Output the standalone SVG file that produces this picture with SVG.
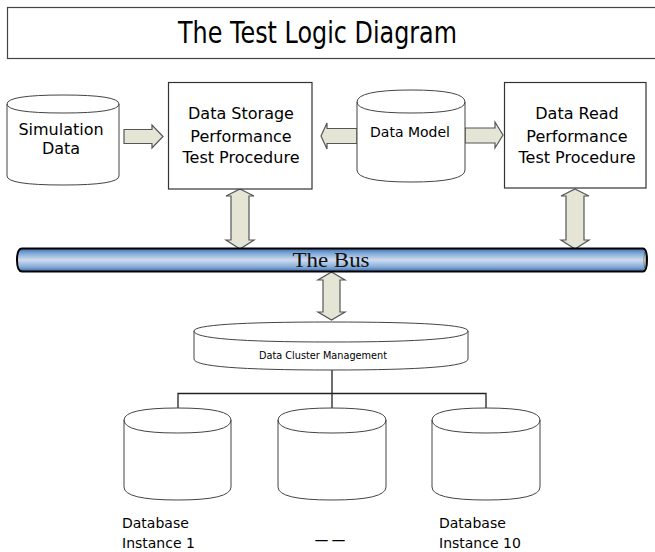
<svg xmlns="http://www.w3.org/2000/svg" width="655" height="552" viewBox="0 0 655 552">
<defs>
<style>
.box{fill:#fff;stroke:#333;stroke-width:1.2}
.cyl{fill:#fff;stroke:#444;stroke-width:1}
.arr{fill:#e4e5d5;stroke:#555;stroke-width:1.2;stroke-linejoin:miter}
.ln{fill:none;stroke:#222;stroke-width:1.3}
.t{font-family:"DejaVu Sans","Liberation Sans",sans-serif;fill:#000}
.c{text-anchor:middle}
</style>
<linearGradient id="busg" x1="0" y1="0" x2="0" y2="1">
<stop offset="0" stop-color="#3e6db0"/>
<stop offset="0.2" stop-color="#7ea6d6"/>
<stop offset="0.5" stop-color="#cfdcee"/>
<stop offset="0.8" stop-color="#86acd8"/>
<stop offset="1" stop-color="#3e6db0"/>
</linearGradient>
</defs>
<rect width="655" height="552" fill="#fff"/>

<g id="title">
<rect x="7.5" y="7.5" width="660" height="51" fill="#fff" stroke="#444" stroke-width="1.2"/>
<text class="t" x="178" y="43" font-size="30" textLength="279" lengthAdjust="spacingAndGlyphs">The Test Logic Diagram</text>
</g>

<g id="connectors">
<polygon class="arr" points="124,129.5 152,129.5 152,125 163,136.5 152,148 152,143.5 124,143.5"/>
<polygon class="arr" points="357,128.5 327,128.5 327,123 321,136 327,149 327,143.5 357,143.5"/>
<polygon class="arr" points="465,128 495,128 495,122 503,135 495,148 495,143 465,143"/>
<polygon class="arr" points="240,189 254,196 249,196 249,240 254,240 240,249 226,240 231,240 231,196 226,196"/>
<polygon class="arr" points="575,189 589,196 584,196 584,240 589,240 575,249 561,240 566,240 566,196 561,196"/>
<polygon class="arr" points="331.5,272 345,280 340,280 340,312 345,312 331.5,320 318,312 323,312 323,280 318,280"/>
<path class="ln" d="M332,370 V408 M178,408 V393.5 H486 V408"/>
</g>

<g id="sim-data">
<path class="cyl" d="M7,104 Q7,95 63,95 Q119,95 119,104 L119,176 Q119,185 63,185 Q7,185 7,176 Z M7,104 Q7,113 63,113 Q119,113 119,104"/>
<text class="t c" font-size="16"><tspan x="61" y="135">Simulation</tspan><tspan x="61" y="154">Data</tspan></text>
</g>

<g id="storage-proc">
<rect class="box" x="168.5" y="82.5" width="143.5" height="106.5"/>
<text class="t c" font-size="16"><tspan x="241" y="119">Data Storage</tspan><tspan x="241" y="142">Performance</tspan><tspan x="241" y="163">Test  Procedure</tspan></text>
</g>

<g id="data-model">
<path class="cyl" d="M357,102 Q357,90 411,90 Q465,90 465,102 L465,170 Q465,182 411,182 Q357,182 357,170 Z M357,102 Q357,113 411,113 Q465,113 465,102"/>
<text class="t c" font-size="14" x="410" y="137">Data Model</text>
</g>

<g id="read-proc">
<rect class="box" x="504.5" y="82.5" width="141.5" height="105.5"/>
<text class="t c" font-size="16"><tspan x="577" y="119">Data Read</tspan><tspan x="577" y="142">Performance</tspan><tspan x="577" y="163">Test  Procedure</tspan></text>
</g>

<g id="bus">
<path d="M22,248.5 H643 Q647,248.5 647,260 Q647,271.5 643,271.5 H22 Q17,271.5 17,260 Q17,248.5 22,248.5 Z" fill="url(#busg)" stroke="#000" stroke-width="2"/>
<path d="M644.5,252 Q643,260 644.5,268 Q646,260 644.5,252 Z" fill="#eef2fa" stroke="#555" stroke-width="0.6"/>
<text x="331" y="267" font-family="Liberation Serif, serif" font-size="20" text-anchor="middle" textLength="77" lengthAdjust="spacingAndGlyphs" fill="#111">The Bus</text>
</g>

<g id="cluster-mgmt">
<path class="cyl" d="M194,331 Q194,322 331,322 Q468,322 468,331 L468,359 Q468,370 331,370 Q194,370 194,359 Z M194,331 Q194,342 331,342 Q468,342 468,331"/>
<text class="t c" font-size="10" x="323" y="359" textLength="128" lengthAdjust="spacingAndGlyphs">Data Cluster Management</text>
</g>

<g id="db1">
<path class="cyl" d="M124,420 Q124,408 177.5,408 Q231,408 231,420 L231,487 Q231,500 177.5,500 Q124,500 124,487 Z M124,420 Q124,433 177.5,433 Q231,433 231,420"/>
<text class="t" font-size="14"><tspan x="122" y="528">Database</tspan><tspan x="122" y="548">Instance  1</tspan></text>
</g>

<g id="db-mid">
<path class="cyl" d="M278,420 Q278,408 332,408 Q386,408 386,420 L386,487 Q386,500 332,500 Q278,500 278,487 Z M278,420 Q278,433 332,433 Q386,433 386,420"/>
<text class="t" font-size="14" x="313" y="545" textLength="34" lengthAdjust="spacingAndGlyphs">--</text>
</g>

<g id="db10">
<path class="cyl" d="M432,420 Q432,408 486,408 Q540,408 540,420 L540,487 Q540,500 486,500 Q432,500 432,487 Z M432,420 Q432,433 486,433 Q540,433 540,420"/>
<text class="t" font-size="14"><tspan x="439" y="528">Database</tspan><tspan x="439" y="548">Instance  10</tspan></text>
</g>
</svg>
